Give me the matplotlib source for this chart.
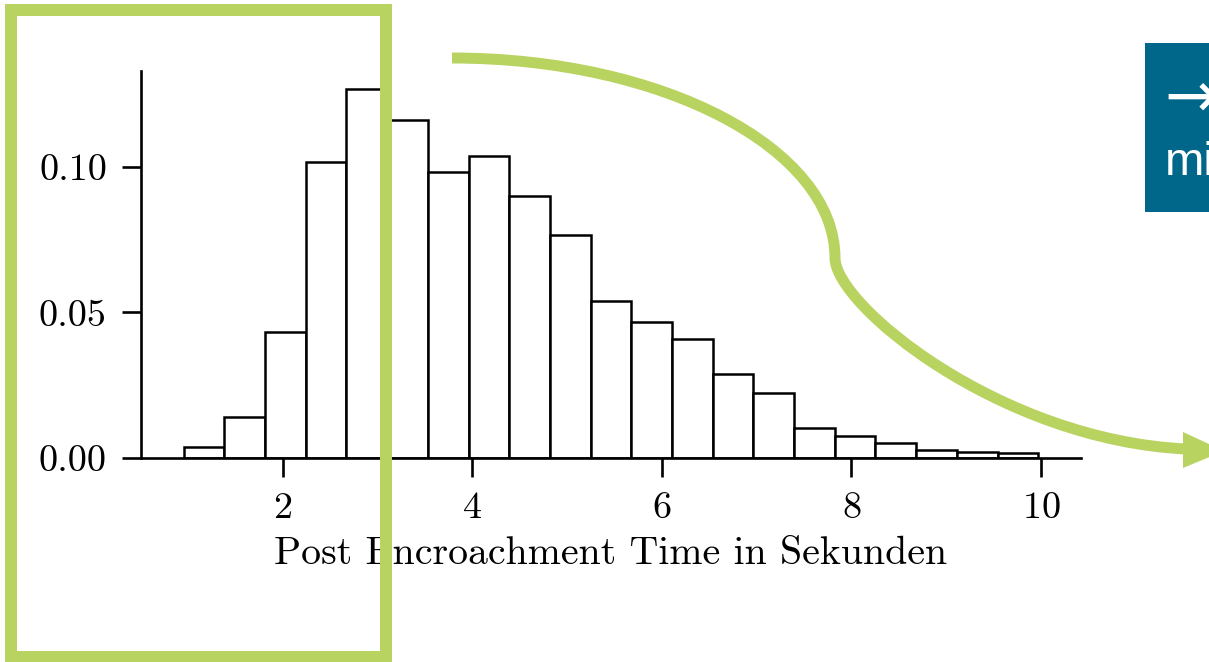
import numpy as np
import matplotlib.pyplot as plt
from matplotlib.patches import Rectangle, PathPatch, Polygon
from matplotlib.path import Path
from matplotlib.ticker import FormatStrFormatter

# data
bin_edges = np.linspace(0.953, 9.971, 22)
density = [0.0038, 0.0141, 0.0431, 0.1017, 0.1266, 0.1162, 0.0983, 0.1038,
           0.0900, 0.0766, 0.0538, 0.0466, 0.0407, 0.0290, 0.0224, 0.0103,
           0.0076, 0.0052, 0.0028, 0.0021, 0.0017]
x_ticks = [2, 4, 6, 8, 10]
y_ticks = [0.00, 0.05, 0.10]
x_label = "Post Encroachment Time in Sekunden"

green = '#b9d360'
blue = '#00678b'

plt.rcParams['font.family'] = 'cmr10'
plt.rcParams['axes.formatter.use_mathtext'] = True

fig = plt.figure(figsize=(12.09, 6.62), dpi=100)
ax = fig.add_axes([0.1166, 0.3082, 0.7775, 0.5846])

widths = np.diff(bin_edges)
ax.bar(bin_edges[:-1], density, width=widths, align='edge',
       facecolor='white', edgecolor='black', linewidth=1.8)

ax.spines['top'].set_visible(False)
ax.spines['right'].set_visible(False)
for s in ['left', 'bottom']:
    ax.spines[s].set_linewidth(1.9)
ax.set_xticks(x_ticks)
ax.set_yticks(y_ticks)
ax.yaxis.set_major_formatter(FormatStrFormatter('%.2f'))
ax.tick_params(length=13.5, width=1.9, labelsize=27.5, pad=11)
ax.set_xlabel(x_label, fontsize=28.7, labelpad=8)

# overlay with the slide decorations, in pixel coordinates
ov = fig.add_axes([0, 0, 1, 1], zorder=10)
ov.set_xlim(0, 1209)
ov.set_ylim(662, 0)
ov.axis('off')
ov.patch.set_alpha(0)

ov.add_patch(Rectangle((11, 10), 374.5, 647, fill=False, edgecolor=green,
                       linewidth=8.6, joinstyle='miter'))

verts = [(452, 58), (663, 58), (835, 149), (835, 258),
         (835, 305), (1000, 440), (1186, 449)]
codes = [Path.MOVETO] + [Path.CURVE4] * 6
ov.add_patch(PathPatch(Path(verts, codes), fill=False, edgecolor=green,
                       linewidth=7.9, capstyle='butt'))
ov.add_patch(Polygon([(1183, 432), (1183, 468), (1224, 451)], closed=True,
                     facecolor=green, edgecolor='none'))

ov.add_patch(Rectangle((1145, 43), 80, 169, facecolor=blue, edgecolor='none'))
ov.text(1164, 99, '→', color='white', fontsize=46, va='center', ha='left',
        family=['DejaVu Sans'])
ov.text(1165, 175, 'mi', color='white', fontsize=34, va='baseline', ha='left',
        family=['Liberation Sans', 'DejaVu Sans'])

fig.savefig('out.png', dpi=100)
